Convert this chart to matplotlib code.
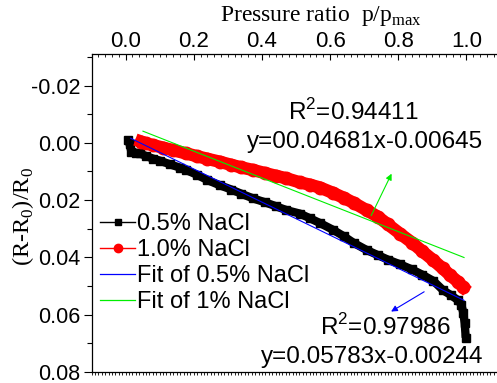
import matplotlib
matplotlib.use("Agg")
import matplotlib.pyplot as plt
from matplotlib.lines import Line2D
from matplotlib.ticker import MultipleLocator
import numpy as np

plt.rcParams['font.family'] = ['Liberation Sans', 'DejaVu Sans']
plt.rcParams['mathtext.fontset'] = 'custom'
plt.rcParams['mathtext.rm'] = 'Liberation Serif'
plt.rcParams['mathtext.sf'] = 'Liberation Sans'

# ---- data ----
x_05 = [0.007, 0.012, 0.017, 0.03, 0.041, 0.06, 0.08, 0.10, 0.13, 0.16, 0.178, 0.21,
        0.24, 0.276, 0.31, 0.34, 0.374, 0.41, 0.44, 0.472, 0.511, 0.54, 0.570, 0.609,
        0.64, 0.67, 0.707, 0.74, 0.77, 0.805, 0.84, 0.87, 0.903, 0.932, 0.955, 0.976,
        0.985, 0.991, 0.995, 0.998]
y_05 = [-0.0009, 0.0005, 0.0031, 0.0035, 0.0037, 0.0046, 0.0055, 0.0062, 0.0075, 0.0087,
        0.0095, 0.0112, 0.0130, 0.0148, 0.0163, 0.0178, 0.0194, 0.0208, 0.0221, 0.0235,
        0.0247, 0.0263, 0.0280, 0.0304, 0.0326, 0.0350, 0.0374, 0.0392, 0.0408, 0.0424,
        0.0442, 0.0460, 0.0482, 0.0515, 0.0532, 0.0550, 0.0565, 0.0594, 0.0630, 0.0680]

x_10 = [0.046, 0.06, 0.08, 0.11, 0.14, 0.178, 0.21, 0.24, 0.276, 0.31, 0.34, 0.374,
        0.41, 0.44, 0.472, 0.511, 0.54, 0.570, 0.609, 0.64, 0.67, 0.707, 0.74, 0.77,
        0.805, 0.84, 0.87, 0.903, 0.93, 0.952, 0.975, 0.99]
y_10 = [-0.0004, 0.0002, 0.0008, 0.0017, 0.0026, 0.0037, 0.0047, 0.0056, 0.0066, 0.0077,
        0.0086, 0.0095, 0.0106, 0.0115, 0.0124, 0.0138, 0.0146, 0.0156, 0.0175, 0.0192,
        0.0210, 0.0235, 0.0258, 0.0285, 0.0317, 0.0348, 0.0378, 0.0410, 0.0438, 0.0462,
        0.0485, 0.0503]

fit05_slope, fit05_icpt = 0.05783, -0.00244
fit05_range = [0.015, 0.993]
fit10_slope, fit10_icpt = 0.04681, -0.00645
fit10_range = [0.051, 0.993]

labels = ["0.5% NaCl", "1.0% NaCl", "Fit of 0.5% NaCl", "Fit of 1% NaCl"]
x_ticks = [0.0, 0.2, 0.4, 0.6, 0.8, 1.0]
y_ticks = [-0.02, 0.00, 0.02, 0.04, 0.06, 0.08]

# ---- figure ----
fig = plt.figure(figsize=(4.97, 3.83), dpi=100)
ax = fig.add_axes([91.5 / 497, 11 / 383, 409 / 497, 318 / 383])

ax.plot(x_05, y_05, color='black', lw=6, marker='s', ms=6, solid_capstyle='butt', zorder=3)
ax.plot(x_10, y_10, color='red', lw=9, marker='o', ms=9, zorder=3)

fx = np.array(fit05_range)
ax.plot(fx, fit05_slope * fx + fit05_icpt, color='blue', lw=0.8, zorder=4)
gx = np.array(fit10_range)
ax.plot(gx, fit10_slope * gx + fit10_icpt, color='#00ee00', lw=0.8, zorder=4)

ax.set_xlim(-0.1, 1.1)
ax.set_ylim(0.08, -0.031)

ax.xaxis.set_ticks_position('top')
ax.xaxis.set_label_position('top')
ax.set_xticks(x_ticks)
ax.set_xticklabels([f"{v:.1f}" for v in x_ticks])
ax.xaxis.set_minor_locator(MultipleLocator(0.02))
ax.tick_params(axis='x', which='major', direction='in', length=4, width=0.8,
               labelsize=16, pad=1.5)
ax.tick_params(axis='x', which='minor', direction='in', length=2, width=0.6)

ax.set_yticks(y_ticks)
ax.set_yticklabels([f"{v:.2f}" for v in y_ticks])
ax.yaxis.set_minor_locator(MultipleLocator(0.01))
ax.tick_params(axis='y', which='major', direction='out', length=6, width=0.8,
               labelsize=15.5, pad=2)
ax.tick_params(axis='y', which='minor', direction='out', length=3.5, width=0.8)

ax.spines['right'].set_visible(False)
for s in ['top', 'left', 'bottom']:
    ax.spines[s].set_linewidth(0.9)

sec = ax.secondary_xaxis('bottom')
sec.xaxis.set_major_locator(MultipleLocator(0.01))
sec.tick_params(direction='out', length=2, width=0.6, labelbottom=False)
sec.spines['bottom'].set_visible(False)

fig.text(321 / 497, 1 - 16 / 383, "Pressure ratio  p/p$_{\\rm max}$", family='Liberation Serif',
         fontsize=17, ha='center', va='center')
fig.text(23 / 497, 1 - 216 / 383, "(R-R$_{\\rm 0}$)/R$_{\\rm 0}$", family='Liberation Serif',
         fontsize=17.5, rotation=90, ha='center', va='center')

# annotations
ax.text(0.476, -0.0108, "R$^{\\mathsf{2}}$=0.94411", fontsize=17.5, ha='left', va='center')
ax.text(0.355, -0.0003, "y=00.04681x-0.00645", fontsize=17.5, ha='left', va='center')
ax.text(0.570, 0.0643, "R$^{\\mathsf{2}}$=0.97986", fontsize=17.5, ha='left', va='center')
ax.text(0.398, 0.0748, "y=0.05783x-0.00244", fontsize=17.5, ha='left', va='center')

ax.annotate("", xy=(0.784, 0.0099), xytext=(0.717, 0.0263),
            arrowprops=dict(arrowstyle='-|>', color='#00ee00', lw=0.8, mutation_scale=9))
ax.annotate("", xy=(0.772, 0.0594), xytext=(0.883, 0.0515),
            arrowprops=dict(arrowstyle='-|>', color='blue', lw=0.8, mutation_scale=9))

handles = [
    Line2D([], [], color='black', lw=1, marker='s', ms=5),
    Line2D([], [], color='red', lw=1, marker='o', ms=6),
    Line2D([], [], color='blue', lw=0.9),
    Line2D([], [], color='#00ee00', lw=0.9),
]
ax.legend(handles, labels, loc='upper left', bbox_to_anchor=(8.5 / 409, 1 - (222 - 54 - 9) / 318),
          frameon=False, fontsize=17, handlelength=1.5, handletextpad=0.05,
          labelspacing=0.17, borderpad=0, borderaxespad=0)

fig.savefig("out.png", dpi=100)
